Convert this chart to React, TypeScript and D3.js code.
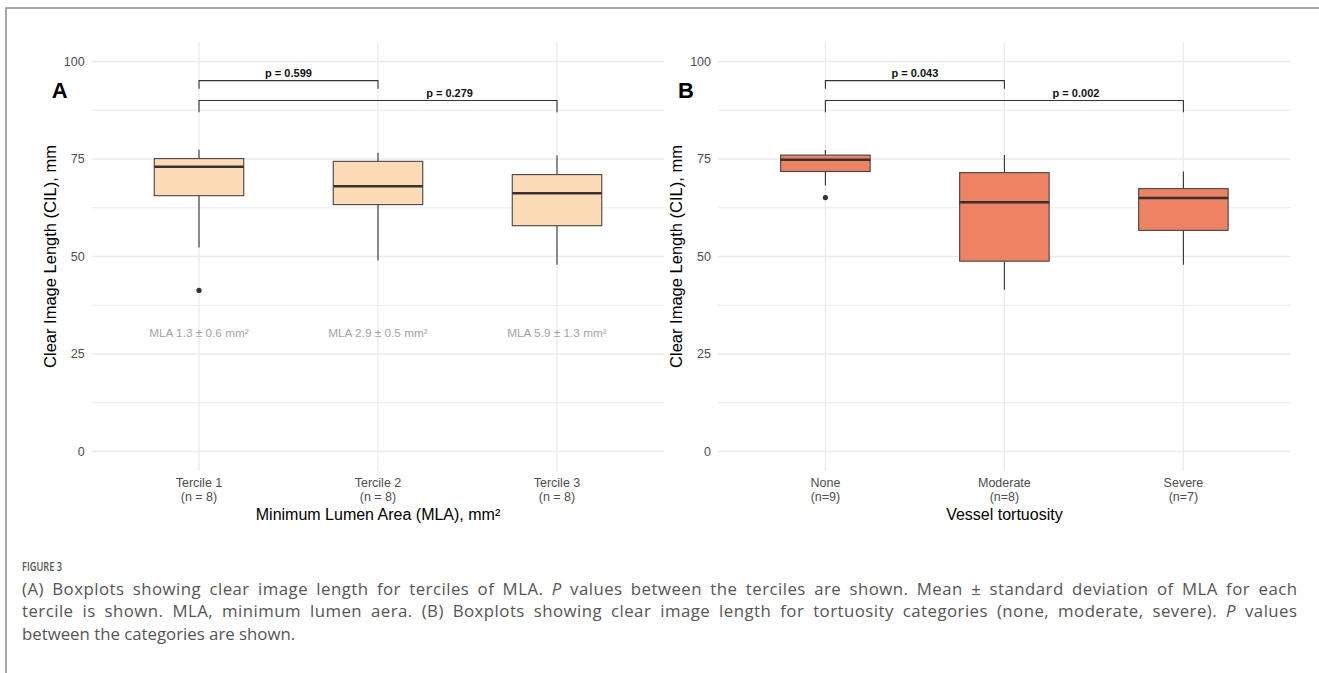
import React, { useLayoutEffect, useRef } from 'react'
import * as d3 from 'd3'

// panel A: terciles of MLA
const catsA = ['Tercile 1', 'Tercile 2', 'Tercile 3']
const countsA = ['(n = 8)', '(n = 8)', '(n = 8)']
// [lower whisker, q1, median, q3, upper whisker]
const statsA = [
  [52.3, 65.6, 73.0, 75.1, 77.4],
  [49.0, 63.3, 68.0, 74.4, 76.6],
  [47.9, 57.9, 66.2, 71.0, 75.9],
]
const outliersA = [[41.3], [], []]
const mlaLabels = ['MLA 1.3 ± 0.6 mm²', 'MLA 2.9 ± 0.5 mm²', 'MLA 5.9 ± 1.3 mm²']
const mlaLabelY = 30.5
const pLabelsA = ['p = 0.599', 'p = 0.279']

// panel B: vessel tortuosity
const catsB = ['None', 'Moderate', 'Severe']
const countsB = ['(n=9)', '(n=8)', '(n=7)']
const statsB = [
  [68.2, 71.8, 74.8, 76.0, 77.3],
  [41.5, 48.8, 63.9, 71.5, 76.0],
  [47.9, 56.7, 65.0, 67.4, 71.8],
]
const outliersB = [[65.1], [], []]
const pLabelsB = ['p = 0.043', 'p = 0.002']

// comparison brackets: groups, bar level, tip level, label position (category units)
const brackets = [
  { from: 0, to: 1, level: 95.1, tip: 93.0, labelAt: 0.5 },
  { from: 0, to: 2, level: 90.0, tip: 87.0, labelAt: 1.4 },
]

const yTicks = [0, 25, 50, 75, 100]
const yMinor = [12.5, 37.5, 62.5, 87.5]

const captionLines = [
  [
    { t: '(A) Boxplots showing clear image length for terciles of MLA. ' },
    { t: 'P', i: true },
    { t: ' values between the terciles are shown. Mean ± standard deviation of MLA for each' },
  ],
  [
    { t: 'tercile is shown. MLA, minimum lumen aera. (B) Boxplots showing clear image length for tortuosity categories (none, moderate, severe). ' },
    { t: 'P', i: true },
    { t: ' values' },
  ],
  [{ t: 'between the categories are shown.' }],
]

const FONT = '"Liberation Sans", Arial, Helvetica, sans-serif'
const GRID = '#ebebeb'
const INK = '#333333'

type PanelProps = {
  letter: string
  left: number
  right: number
  cats: string[]
  counts: string[]
  stats: number[][]
  outliers: number[][]
  fill: string
  pLabels: string[]
  xTitle: string
  notes?: string[]
}

const Panel = ({ letter, left, right, cats, counts, stats, outliers, fill, pLabels, xTitle, notes }: PanelProps) => {
  const top = 42
  const bottom = 471
  const y = d3.scaleLinear().domain([-5, 105]).range([bottom, top])
  const x = d3.scalePoint<string>().domain(cats).range([left, right]).padding(0.6)
  const step = x.step()
  const boxW = step * 0.5
  const cx = (i: number) => x(cats[i]) as number

  return (
    <g>
      {/* grid */}
      {yMinor.map((v) => (
        <line key={'m' + v} x1={left} x2={right} y1={y(v)} y2={y(v)} stroke={GRID} strokeWidth={1} />
      ))}
      {yTicks.map((v) => (
        <line key={'g' + v} x1={left} x2={right} y1={y(v)} y2={y(v)} stroke={GRID} strokeWidth={1.3} />
      ))}
      {cats.map((c) => (
        <line key={'v' + c} x1={x(c)} x2={x(c)} y1={top} y2={bottom} stroke={GRID} strokeWidth={1.3} />
      ))}

      {/* y axis */}
      {yTicks.map((v) => (
        <text key={'t' + v} x={left - 7} y={y(v)} dy="0.35em" textAnchor="end" fontSize={12.5} fill="#4d4d4d">
          {v}
        </text>
      ))}
      <text
        transform={`translate(${left - 36},${(top + bottom) / 2}) rotate(-90)`}
        textAnchor="middle"
        fontSize={16.5}
        fill="#000"
      >
        Clear Image Length (CIL), mm
      </text>

      {/* x axis */}
      {cats.map((c, i) => (
        <g key={'x' + c}>
          <text x={x(c)} y={487} textAnchor="middle" fontSize={12.5} fill="#4d4d4d">
            {c}
          </text>
          <text x={x(c)} y={500.5} textAnchor="middle" fontSize={12.5} fill="#4d4d4d">
            {counts[i]}
          </text>
        </g>
      ))}
      <text x={(left + right) / 2} y={519.5} textAnchor="middle" fontSize={16} fill="#000">
        {xTitle}
      </text>

      {/* boxes */}
      {stats.map((s, i) => {
        const [lo, q1, med, q3, hi] = s
        const c = cx(i)
        return (
          <g key={'b' + i}>
            <line x1={c} x2={c} y1={y(hi)} y2={y(q3)} stroke={INK} strokeWidth={1.1} />
            <line x1={c} x2={c} y1={y(q1)} y2={y(lo)} stroke={INK} strokeWidth={1.1} />
            <rect
              x={c - boxW / 2}
              y={y(q3)}
              width={boxW}
              height={y(q1) - y(q3)}
              fill={fill}
              stroke="#444"
              strokeWidth={1.1}
            />
            <line x1={c - boxW / 2} x2={c + boxW / 2} y1={y(med)} y2={y(med)} stroke={INK} strokeWidth={2.4} />
            {outliers[i].map((o, k) => (
              <circle key={k} cx={c} cy={y(o)} r={2.6} fill={INK} />
            ))}
          </g>
        )
      })}

      {/* annotations under boxes */}
      {notes &&
        notes.map((n, i) => (
          <text key={'n' + i} x={cx(i)} y={y(mlaLabelY)} dy="0.35em" textAnchor="middle" fontSize={11.8} fill="#a3a3a3">
            {n}
          </text>
        ))}

      {/* comparison brackets */}
      {brackets.map((b, k) => (
        <g key={'br' + k}>
          <path
            d={`M${cx(b.from)},${y(b.tip)}V${y(b.level)}H${cx(b.to)}V${y(b.tip)}`}
            fill="none"
            stroke={INK}
            strokeWidth={1.1}
          />
          <text
            x={cx(b.from) + b.labelAt * step}
            y={y(b.level) - 4}
            textAnchor="middle"
            fontSize={11}
            fontWeight="bold"
            fill="#111"
          >
            {pLabels[k]}
          </text>
        </g>
      ))}

      <text x={left - 32} y={98} textAnchor="middle" fontSize={22} fontWeight="bold" fill="#000">
        {letter}
      </text>
    </g>
  )
}

const App = () => {
  const W = 1319
  const H = 673
  const captionWidth = 1275
  const captionRef = useRef<SVGGElement>(null)

  // justify the first caption lines: half the slack to letters, half to word gaps
  useLayoutEffect(() => {
    const g = d3.select(captionRef.current)
    g.selectAll<SVGTextElement, unknown>('text.justify').each(function () {
      const el = this
      el.setAttribute('word-spacing', '0')
      el.setAttribute('letter-spacing', '0')
      const natural = el.getComputedTextLength()
      const txt = el.textContent || ''
      const gaps = txt.split(' ').length - 1
      const extra = captionWidth - natural
      if (gaps > 0 && extra > 0) {
        const ls = (extra * 0.45) / (txt.length - 1)
        const ws = (extra * 0.55) / gaps
        el.setAttribute('letter-spacing', String(ls))
        el.setAttribute('word-spacing', String(ws))
      }
    })
  }, [])

  return (
    <svg
      width={W}
      height={H}
      viewBox={`0 0 ${W} ${H}`}
      style={{ position: 'absolute', left: 0, top: 0, display: 'block', background: '#fff' }}
      fontFamily={FONT}
    >
      <rect width={W} height={H} fill="#fff" />
      <path d={`M6,${H}V8H${W}`} fill="none" stroke="#8c8c8c" strokeWidth={1.5} />

      <Panel
        letter="A"
        left={91.6}
        right={664.4}
        cats={catsA}
        counts={countsA}
        stats={statsA}
        outliers={outliersA}
        fill="#fddbb7"
        pLabels={pLabelsA}
        xTitle="Minimum Lumen Area (MLA), mm²"
        notes={mlaLabels}
      />
      <Panel
        letter="B"
        left={718}
        right={1290.8}
        cats={catsB}
        counts={countsB}
        stats={statsB}
        outliers={outliersB}
        fill="#ef8262"
        pLabels={pLabelsB}
        xTitle="Vessel tortuosity"
      />

      {/* caption */}
      <g ref={captionRef} fontFamily='"Open Sans", sans-serif' fill="#555">
        <text x={22} y={570.5} fontSize={13} fontWeight={600} textLength={40} lengthAdjust="spacingAndGlyphs">
          FIGURE 3
        </text>
        {captionLines.map((line, i) => (
          <text key={i} className={i < 2 ? 'justify' : undefined} x={22} y={594.5 + i * 22.5} fontSize={16.8}>
            {line.map((s, k) => (
              <tspan key={k} fontStyle={s.i ? 'italic' : undefined}>
                {s.t}
              </tspan>
            ))}
          </text>
        ))}
      </g>
    </svg>
  )
}

export default App
